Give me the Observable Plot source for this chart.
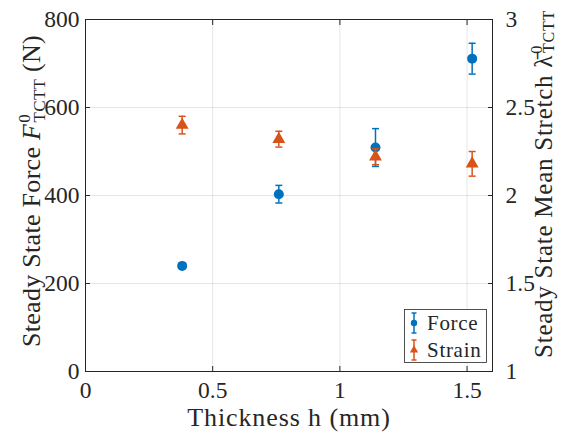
<!DOCTYPE html>
<html><head><meta charset="utf-8">
<script src="https://cdn.jsdelivr.net/npm/d3@7"></script>
<script src="https://cdn.jsdelivr.net/npm/@observablehq/plot@0.6"></script>
<style>body{margin:0;background:#fff} svg{display:block}</style>
</head><body><div id="chart"></div>
<script>
const thickness = [0.38, 0.76, 1.14, 1.52];
const forceMean = [240, 403, 509, 711];
const forceErr = [5, 20, 43, 35];
const stretchMean = [2.40, 2.32, 2.22, 2.18];
const stretchErr = [0.05, 0.045, 0.045, 0.07];
const xTicks = [0, 0.5, 1, 1.5];
const forceTicks = [0, 200, 400, 600, 800];
const stretchTicks = [1, 1.5, 2, 2.5, 3];
const seriesNames = ["Force", "Strain"];
const blue = "#0072BD", orange = "#D95319", ink = "#262626";
const FONT = "Liberation Serif";

// right axis [1,3] is drawn on the left scale [0,800]
const toF = s => (s - 1) * 400;

const force = thickness.map((x, i) => ({x, y: forceMean[i], lo: forceMean[i] - forceErr[i], hi: forceMean[i] + forceErr[i]}));
const strain = thickness.map((x, i) => ({x, y: toF(stretchMean[i]), lo: toF(stretchMean[i] - stretchErr[i]), hi: toF(stretchMean[i] + stretchErr[i])}));

const capSymbol = {draw(ctx) { ctx.moveTo(-3.5, 0); ctx.lineTo(3.5, 0); }};

function errMarks(data, color, symbol, r) {
  return [
    Plot.ruleX(data, {x: "x", y1: "lo", y2: "hi", stroke: color, strokeWidth: 1.5}),
    Plot.dot(data, {x: "x", y: "hi", symbol: capSymbol, stroke: color, strokeWidth: 1.5, fill: "none"}),
    Plot.dot(data, {x: "x", y: "lo", symbol: capSymbol, stroke: color, strokeWidth: 1.5, fill: "none"}),
    Plot.dot(data, {x: "x", y: "y", symbol, r, fill: color, stroke: "none"})
  ];
}

const chart = Plot.plot({
  width: 561, height: 439,
  marginLeft: 85, marginRight: 69, marginTop: 19, marginBottom: 68,
  style: {fontFamily: FONT, fontSize: "23.5px", color: ink, background: "#fff", overflow: "visible"},
  x: {domain: [0, 1.6]},
  y: {domain: [0, 800]},
  marks: [
    Plot.gridX(xTicks.slice(1), {stroke: "#000", strokeOpacity: 0.1, strokeWidth: 1}),
    Plot.gridY(forceTicks.slice(1, -1), {stroke: "#000", strokeOpacity: 0.1, strokeWidth: 1}),
    Plot.frame({stroke: ink, strokeWidth: 1}),
    Plot.axisX(xTicks, {anchor: "bottom", tickSize: -5, tickPadding: 15, label: null, stroke: ink,
      tickFormat: d => String(d)}),
    Plot.axisX(xTicks, {anchor: "top", tickSize: -5, tickFormat: () => "", label: null, stroke: ink}),
    Plot.axisY(forceTicks, {anchor: "left", tickSize: -5, tickPadding: 11, label: null, stroke: ink}),
    Plot.axisY(stretchTicks.map(toF), {anchor: "right", tickSize: -5, tickPadding: 18, label: null, stroke: ink,
      tickFormat: d => String(d / 400 + 1)}),
    ...errMarks(force, blue, "circle", 5),
    ...errMarks(strain, orange, "triangle", 4.8)
  ]
});
document.getElementById("chart").append(chart);

const svg = d3.select(chart);
const lab = svg.append("g").attr("font-family", FONT).attr("fill", ink);

// x label
lab.append("text").attr("x", 289).attr("y", 426).attr("text-anchor", "middle").attr("font-size", 26)
  .attr("letter-spacing", 0.9).text("Thickness h (mm)");

// left y label
const ly = lab.append("text").attr("transform", "translate(40,191) rotate(-90)")
  .attr("text-anchor", "middle").attr("font-size", 26).attr("letter-spacing", 0.3);
ly.append("tspan").text("Steady State Force ");
ly.append("tspan").attr("font-style", "italic").text("F");
ly.append("tspan").attr("font-size", 17).attr("dy", -10).attr("dx", 1).text("0");
ly.append("tspan").attr("font-size", 17).attr("dy", 15).attr("dx", -8.5).text("TCTT");
ly.append("tspan").attr("dy", -5).text(" (N)");

// right y label
const ry = lab.append("text").attr("transform", "translate(552,184) rotate(-90)")
  .attr("text-anchor", "middle").attr("font-size", 25).attr("letter-spacing", 0.75);
ry.append("tspan").text("Steady State Mean Stretch ");
ry.append("tspan").text("\u03BB\u0304");
ry.append("tspan").attr("font-size", 16).attr("dy", -10).attr("dx", 1).text("0");
ry.append("tspan").attr("font-size", 16).attr("dy", 12).attr("dx", -8).text("TCTT");

// legend
const lg = svg.append("g").attr("font-family", FONT).attr("text-anchor", "start");
lg.append("rect").attr("x", 404.5).attr("y", 309.5).attr("width", 82).attr("height", 53)
  .attr("fill", "#fff").attr("stroke", ink).attr("stroke-width", 0.8);
const legendColors = [blue, orange];
seriesNames.forEach((name, i) => {
  const cy = 323 + i * 27, cx = 414, c = legendColors[i];
  const g = lg.append("g").attr("stroke", c).attr("stroke-width", 1.5);
  g.append("line").attr("x1", cx).attr("x2", cx).attr("y1", cy - 10).attr("y2", cy + 10);
  g.append("line").attr("x1", cx - 2.5).attr("x2", cx + 2.5).attr("y1", cy - 10).attr("y2", cy - 10);
  g.append("line").attr("x1", cx - 2.5).attr("x2", cx + 2.5).attr("y1", cy + 10).attr("y2", cy + 10);
  if (i === 0) lg.append("circle").attr("cx", cx).attr("cy", cy).attr("r", 3.2).attr("fill", c);
  else lg.append("path").attr("d", d3.symbol(d3.symbolTriangle, 30)()).attr("transform", `translate(${cx},${cy})`).attr("fill", c);
  lg.append("text").attr("x", 427).attr("y", cy + 7).attr("font-size", 21).attr("letter-spacing", 0.7)
    .attr("fill", ink).text(name);
});
</script>
</body></html>
